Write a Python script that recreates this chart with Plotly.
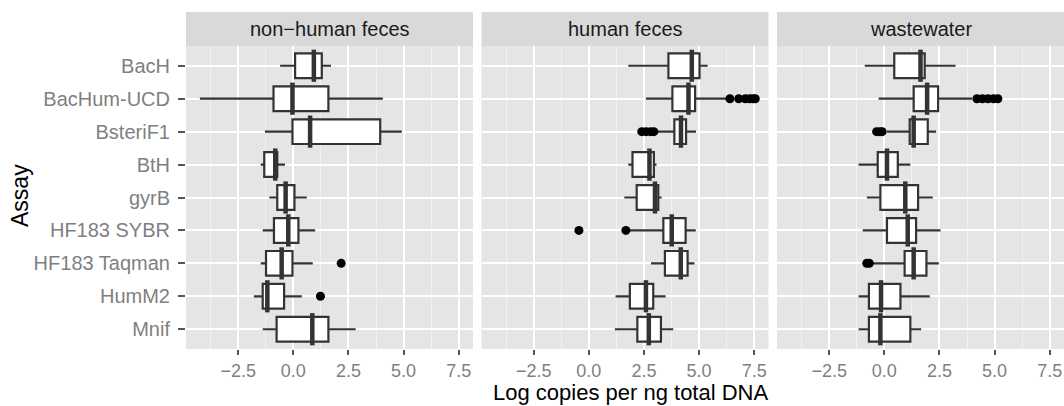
import plotly.graph_objects as go

# ---------------- data ----------------
assays = ["BacH", "BacHum-UCD", "BsteriF1", "BtH", "gyrB",
          "HF183 SYBR", "HF183 Taqman", "HumM2", "Mnif"]
panels = ["non\u2212human feces", "human feces", "wastewater"]

# non-human feces
nh_low = [-0.6, -4.24, -1.29, -1.48, -1.09, -1.39, -1.48, -1.79, -1.39]
nh_q1 = [0.08, -0.90, -0.04, -1.32, -0.73, -0.88, -1.24, -1.39, -0.76]
nh_med = [0.93, -0.04, 0.76, -0.82, -0.35, -0.23, -0.53, -1.18, 0.86]
nh_q3 = [1.29, 1.59, 3.94, -0.73, 0.05, 0.23, -0.04, -0.42, 1.59]
nh_high = [1.71, 4.06, 4.92, -0.38, 0.61, 0.99, 0.88, 0.38, 2.83]
nh_out_assay = ["HF183 Taqman", "HumM2"]
nh_out_val = [2.17, 1.23]

# human feces
hf_low = [1.79, 2.59, 3.12, 1.79, 1.61, 1.75, 2.82, 1.21, 1.18]
hf_q1 = [3.61, 3.79, 3.88, 1.98, 2.17, 3.38, 3.45, 1.86, 2.20]
hf_med = [4.67, 4.52, 4.18, 2.75, 3.00, 3.76, 4.17, 2.59, 2.72]
hf_q3 = [5.02, 4.82, 4.41, 2.95, 3.15, 4.39, 4.48, 2.92, 3.27]
hf_high = [5.39, 6.26, 4.86, 3.07, 3.30, 4.85, 4.79, 3.48, 3.83]
hf_out_assay = ["BacHum-UCD"] * 6 + ["BsteriF1"] * 4 + ["HF183 SYBR"] * 2
hf_out_val = [6.4, 6.8, 7.1, 7.3, 7.45, 7.55,
              2.4, 2.6, 2.8, 2.95,
              -0.45, 1.68]

# wastewater
ww_low = [-0.89, -0.26, 0.12, -1.17, -0.79, -0.98, -0.56, -1.17, -1.17]
ww_q1 = [0.45, 1.33, 1.15, -0.30, -0.18, 0.12, 0.92, -0.70, -0.70]
ww_med = [1.64, 1.94, 1.33, 0.12, 0.95, 1.06, 1.33, -0.15, -0.18]
ww_q3 = [1.83, 2.44, 1.97, 0.61, 1.53, 1.44, 1.91, 0.73, 1.18]
ww_high = [3.23, 3.98, 2.35, 1.18, 2.20, 2.55, 2.47, 2.06, 1.67]
ww_out_assay = ["BacHum-UCD"] * 5 + ["BsteriF1"] * 3 + ["HF183 Taqman"] * 2
ww_out_val = [4.2, 4.45, 4.7, 4.95, 5.15,
              -0.35, -0.2, -0.1,
              -0.8, -0.68]

x_ticks = [-2.5, 0.0, 2.5, 5.0, 7.5]
x_tick_text = ["\u22122.5", "0.0", "2.5", "5.0", "7.5"]

# ---------------- figure ----------------
W, H = 1064, 406
FONT = "Liberation Sans, Arial, Helvetica, sans-serif"
BOXLINE = "#333333"

def px_x(p):
    return p / W

def px_y(p):
    return 1 - p / H

dom_x = [(186, 473), (481.5, 768.5), (777, 1064)]
dom_y = [px_y(349), px_y(46)]

stats = [
    (nh_low, nh_q1, nh_med, nh_q3, nh_high, nh_out_assay, nh_out_val),
    (hf_low, hf_q1, hf_med, hf_q3, hf_high, hf_out_assay, hf_out_val),
    (ww_low, ww_q1, ww_med, ww_q3, ww_high, ww_out_assay, ww_out_val),
]

fig = go.Figure()
layout = {}
for i, (lo, q1, med, q3, hi, oa, ov) in enumerate(stats):
    sfx = "" if i == 0 else str(i + 1)
    xa, ya = "x" + sfx, "y" + sfx
    fig.add_trace(go.Box(
        y=assays, q1=q1, median=med, q3=q3, lowerfence=lo, upperfence=hi,
        orientation="h", xaxis=xa, yaxis=ya, width=0.75,
        fillcolor="white", line=dict(color=BOXLINE, width=2.2),
        whiskerwidth=0, boxpoints=False, showlegend=False, hoverinfo="skip"))
    # thick median (ggplot fatten)
    fig.add_trace(go.Scatter(
        x=med, y=assays, mode="markers", xaxis=xa, yaxis=ya,
        marker=dict(symbol="line-ns", size=23,
                    line=dict(color=BOXLINE, width=4.5)),
        showlegend=False, hoverinfo="skip"))
    # outliers
    fig.add_trace(go.Scatter(
        x=ov, y=oa, mode="markers", xaxis=xa, yaxis=ya,
        marker=dict(color="black", size=9),
        showlegend=False, hoverinfo="skip"))

    layout["xaxis" + sfx] = dict(
        domain=[px_x(dom_x[i][0]), px_x(dom_x[i][1])],
        anchor=ya, range=[-4.87, 8.15],
        tickmode="array", tickvals=x_ticks, ticktext=x_tick_text,
        ticks="outside", ticklen=5, tickwidth=1.5, tickcolor="#555555",
        tickfont=dict(family=FONT, size=18, color="#7F7F7F"),
        showgrid=True, gridcolor="white", gridwidth=2,
        minor=dict(tickmode="array", tickvals=[-3.75, -1.25, 1.25, 3.75, 6.25],
                   showgrid=True, gridcolor="#F2F2F2", gridwidth=1, ticks=""),
        zeroline=False, showline=False, fixedrange=True)
    ydict = dict(
        domain=dom_y, anchor=xa, type="category",
        categoryorder="array", categoryarray=assays,
        range=[len(assays) - 0.4, -0.6],
        showgrid=True, gridcolor="white", gridwidth=2,
        zeroline=False, showline=False, fixedrange=True)
    if i == 0:
        ydict.update(ticks="outside", ticklen=7, tickwidth=1.5,
                     tickcolor="#555555", ticklabelstandoff=4,
                     tickfont=dict(family=FONT, size=20, color="#7F7F7F"))
    else:
        ydict.update(matches="y", showticklabels=False, ticks="")
    layout["yaxis" + sfx] = ydict

shapes = []
annotations = []
for i, name in enumerate(panels):
    x0, x1 = dom_x[i]
    shapes.append(dict(type="rect", xref="paper", yref="paper",
                       x0=px_x(x0), x1=px_x(x1), y0=px_y(46), y1=px_y(12),
                       fillcolor="#D9D9D9", line=dict(width=0), layer="below"))
    annotations.append(dict(text=name, xref="paper", yref="paper",
                            x=px_x((x0 + x1) / 2), y=px_y(29),
                            xanchor="center", yanchor="middle", showarrow=False,
                            font=dict(family=FONT, size=20, color="#1A1A1A")))

annotations.append(dict(text="Log copies per ng total DNA", xref="paper", yref="paper",
                        x=px_x(630), y=px_y(406), xanchor="center", yanchor="bottom",
                        borderpad=0,
                        showarrow=False, font=dict(family=FONT, size=22, color="black")))
annotations.append(dict(text="Assay", xref="paper", yref="paper",
                        x=px_x(20), y=px_y(196), xanchor="center", yanchor="middle",
                        textangle=-90, showarrow=False,
                        font=dict(family=FONT, size=23, color="black")))

fig.update_layout(
    width=W, height=H, margin=dict(l=0, r=0, t=0, b=0),
    paper_bgcolor="white", plot_bgcolor="#E5E5E5",
    shapes=shapes, annotations=annotations, showlegend=False,
    font=dict(family=FONT), **layout)

fig.write_html("out.html")
